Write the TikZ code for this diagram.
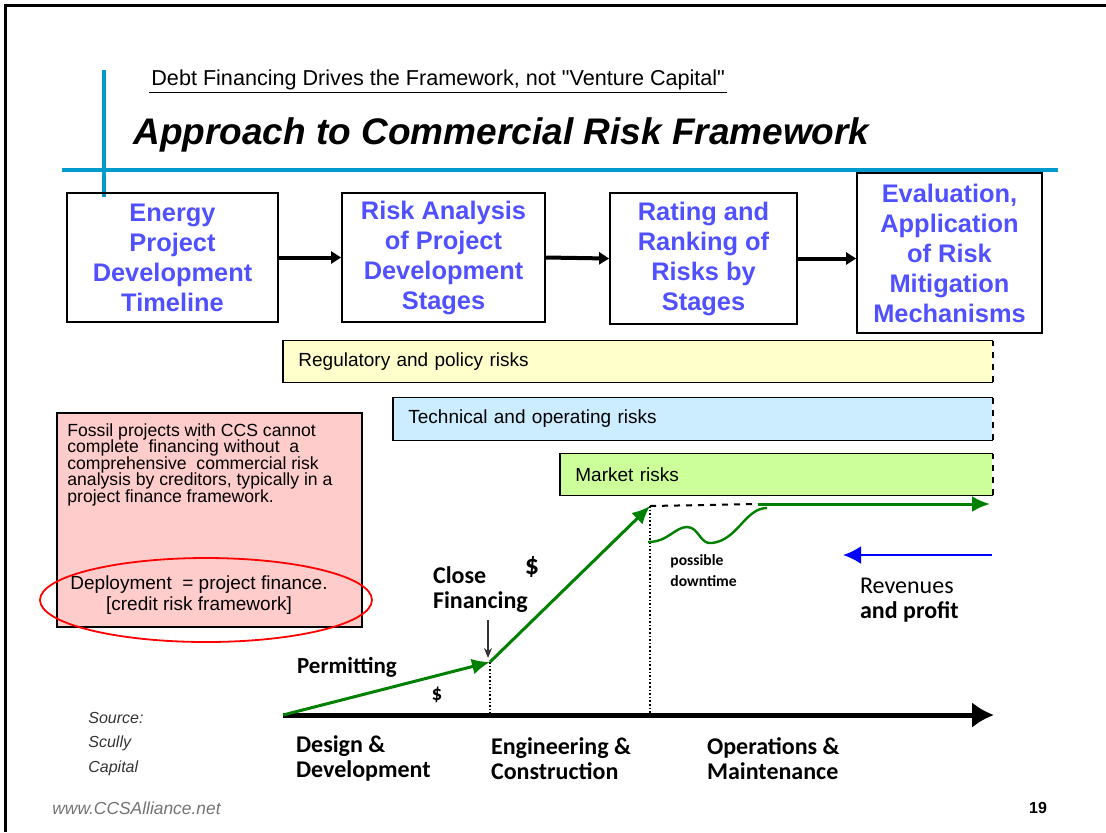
\documentclass[tikz,border=0pt]{standalone}
\usepackage{fontspec}
\setmainfont{Liberation Sans}
\newfontfamily\calfont{Carlito}
\usetikzlibrary{arrows.meta,positioning,calc}
\definecolor{rulecol}{RGB}{0,153,204}
\definecolor{stagetext}{RGB}{80,80,255}
\definecolor{regyellow}{RGB}{255,255,204}
\definecolor{techblue}{RGB}{204,236,255}
\definecolor{mktgreen}{RGB}{204,255,153}
\definecolor{notepink}{RGB}{255,204,204}
\definecolor{flowgreen}{RGB}{0,128,0}
\newcommand{\openbar}[1]{
	\draw [line width=0.8pt] (#1.north east) -- (#1.north west) -- (#1.south west) -- (#1.south east);
	\draw [line width=1pt,dashed] (#1.south east) -- (#1.north east);
}
\tikzset{
	stage/.style={draw,line width=0.9pt,align=center,inner sep=0pt,text=stagetext,
		font=\fontsize{12.7}{15}\selectfont\bfseries},
	riskbar/.style={fill=#1,anchor=west,align=left,inner xsep=7.5pt,inner ysep=0pt,
		font=\fontsize{9.5}{11}\selectfont},
	flow/.style={flowgreen,line width=1.5pt},
	phase/.style={anchor=west,align=left,font=\calfont\fontsize{12}{12.5}\selectfont\bfseries},
	flowarrow/.style={-{Latex[length=9pt,width=8pt]}}
}

\begin{document}
\begin{tikzpicture}[x=0.5pt,y=-0.5pt]
\useasboundingbox (0,0) rectangle (1106,832);
\draw [line width=1.5pt] (5,832) -- (5,5) -- (1106,5);

\draw [rulecol,line width=2pt] (104,70) -- (104,197);
\draw [rulecol,line width=2pt] (62,170) -- (1058,170);

\node [anchor=west,inner sep=1pt,font=\fontsize{10.8}{12}\selectfont] (sub) at (149,80)
	{Debt Financing Drives the Framework, not \textquotedbl Venture Capital\textquotedbl};
\draw [line width=0.8pt] (sub.south west) -- (sub.south east);
\node [anchor=west,inner sep=0pt,font=\fontsize{18.5}{21}\selectfont\bfseries\itshape] (title) at (133,135)
	{Approach to Commercial Risk Framework};

\node [stage,minimum width=105.5pt,minimum height=64.5pt] (s1) at (172.5,257.5)
	{Energy\\Project\\Development\\Timeline};
\node [stage,minimum width=101.5pt,minimum height=64.5pt] (s2) at (443.5,257.5)
	{Risk Analysis\\of Project\\Development\\Stages};
\node [stage,minimum width=93.5pt,minimum height=65.5pt] (s3) at (703.5,258.5)
	{Rating and\\Ranking of\\Risks by\\Stages};
\node [stage,minimum width=92.5pt,minimum height=80pt] (s4) at (949.5,253)
	{Evaluation,\\Application\\of Risk\\Mitigation\\Mechanisms};
\draw [line width=2pt,-{Triangle[length=5pt,width=6pt]}] (s1.east) -- (s2.west);
\draw [line width=2pt,-{Triangle[length=5pt,width=6pt]}] (s2.east) -- (s3.west);
\draw [line width=2pt,-{Triangle[length=5pt,width=6pt]}] (s3.east) -- (s3.east -| s4.west);

\node [riskbar=regyellow,text width=339.5pt,minimum height=20.5pt] (reg) at (283,361.5) {Regulatory and policy risks};
\node [riskbar=techblue,text width=284.5pt,minimum height=21pt] (tech) at (393,419) {Technical and operating risks};
\node [riskbar=mktgreen,text width=201pt,minimum height=20.5pt] (mkt) at (560,474.5) {Market risks};
\foreach \b in {reg,tech,mkt} \openbar{\b};

\node [draw,fill=notepink,line width=0.8pt,minimum width=152.5pt,minimum height=107pt] (note) at (209.5,520) {};
\node [anchor=north west,align=left,inner sep=0pt,font=\fontsize{8.8}{8.25}\selectfont] (notetext) at (67,423)
	{Fossil projects with CCS cannot\\complete \ financing without \ a\\comprehensive \ commercial risk\\analysis by creditors, typically in a\\project finance framework.};
\node [align=center,inner sep=0pt,font=\fontsize{9.5}{10.5}\selectfont] (deploy) at (199,595)
	{Deployment \ = project finance.\\\relax [credit risk framework]};
\draw [red,line width=0.9pt] (206,600) ellipse [x radius=83pt,y radius=21pt];

\coordinate (t0) at (283,715);
\coordinate (tend) at (994,715);
\coordinate (close) at (490,662);
\coordinate (build) at (650,506);
\coordinate (wave) at (758,504);
\coordinate (run) at (990,504);
\draw [line width=2.5pt,-{Latex[length=11pt,width=13pt]}] (t0) -- (tend);
\draw [line width=0.8pt,densely dotted] (close) -- (close |- t0);
\draw [line width=0.8pt,densely dotted] (build) -- (build |- t0);
\draw [flow,flowarrow] (t0) -- (close);
\draw [flow,flowarrow] (close) -- (build);
\draw [line width=1pt,dashed] (build) -- (wave);
\draw [flow,flowarrow] (wave) -- (run);
\draw [flowgreen,line width=1.2pt] (648,542) .. controls (668,542) and (675,527) .. (687,527)
	.. controls (699,527) and (700,545) .. (712,543) .. controls (738,540) and (745,508) .. (767,508);

\coordinate (ct) at (488,620);
\draw [gray!40!black,line width=0.6pt,-{Stealth[length=5pt,width=4pt]}] (ct) -- (ct |- 0,658);

\node [phase] (closelbl) at (426,589.5) {Close\\Financing};
\node [font=\calfont\fontsize{14}{14}\selectfont\bfseries] (dollar1) at (532,567) {\$};
\node [phase,font=\calfont\fontsize{11.5}{12}\selectfont\bfseries] (permit) at (290,667) {Permitting};
\node [font=\calfont\fontsize{10.5}{11}\selectfont\bfseries] (dollar2) at (437,695) {\$};
\node [anchor=west,align=left,inner sep=0pt,font=\calfont\fontsize{7.8}{10.5}\selectfont\bfseries] (downtime) at (670,571)
	{possible\\downtime};

\coordinate (revstart) at (992,555);
\draw [blue,line width=1.2pt,-{Latex[length=9pt,width=9pt]}] (revstart) -- (843,555);
\node [phase,font=\calfont\fontsize{12}{12.3}\selectfont] (revenues) at (853,600) {Revenues\\\textbf{and profit}};

\node [phase] (design) at (289,758.5) {Design \&\\Development};
\node [phase] (engineering) at (484,758.5) {Engineering \&\\Construction};
\node [phase] (operations) at (700,758.5) {Operations \&\\Maintenance};

\node [anchor=west,align=left,inner sep=0pt,text=black!80,font=\fontsize{8}{12.25}\selectfont\itshape] (source) at (88,744)
	{Source:\\Scully\\Capital};
\node [anchor=west,inner sep=0pt,text=black!55,font=\fontsize{8.7}{10}\selectfont\itshape] (web) at (52,808) {www.CCSAlliance.net};
\node [inner sep=0pt,font=\fontsize{8}{10}\selectfont\bfseries] (page) at (1038,808) {19};
\end{tikzpicture}
\end{document}
